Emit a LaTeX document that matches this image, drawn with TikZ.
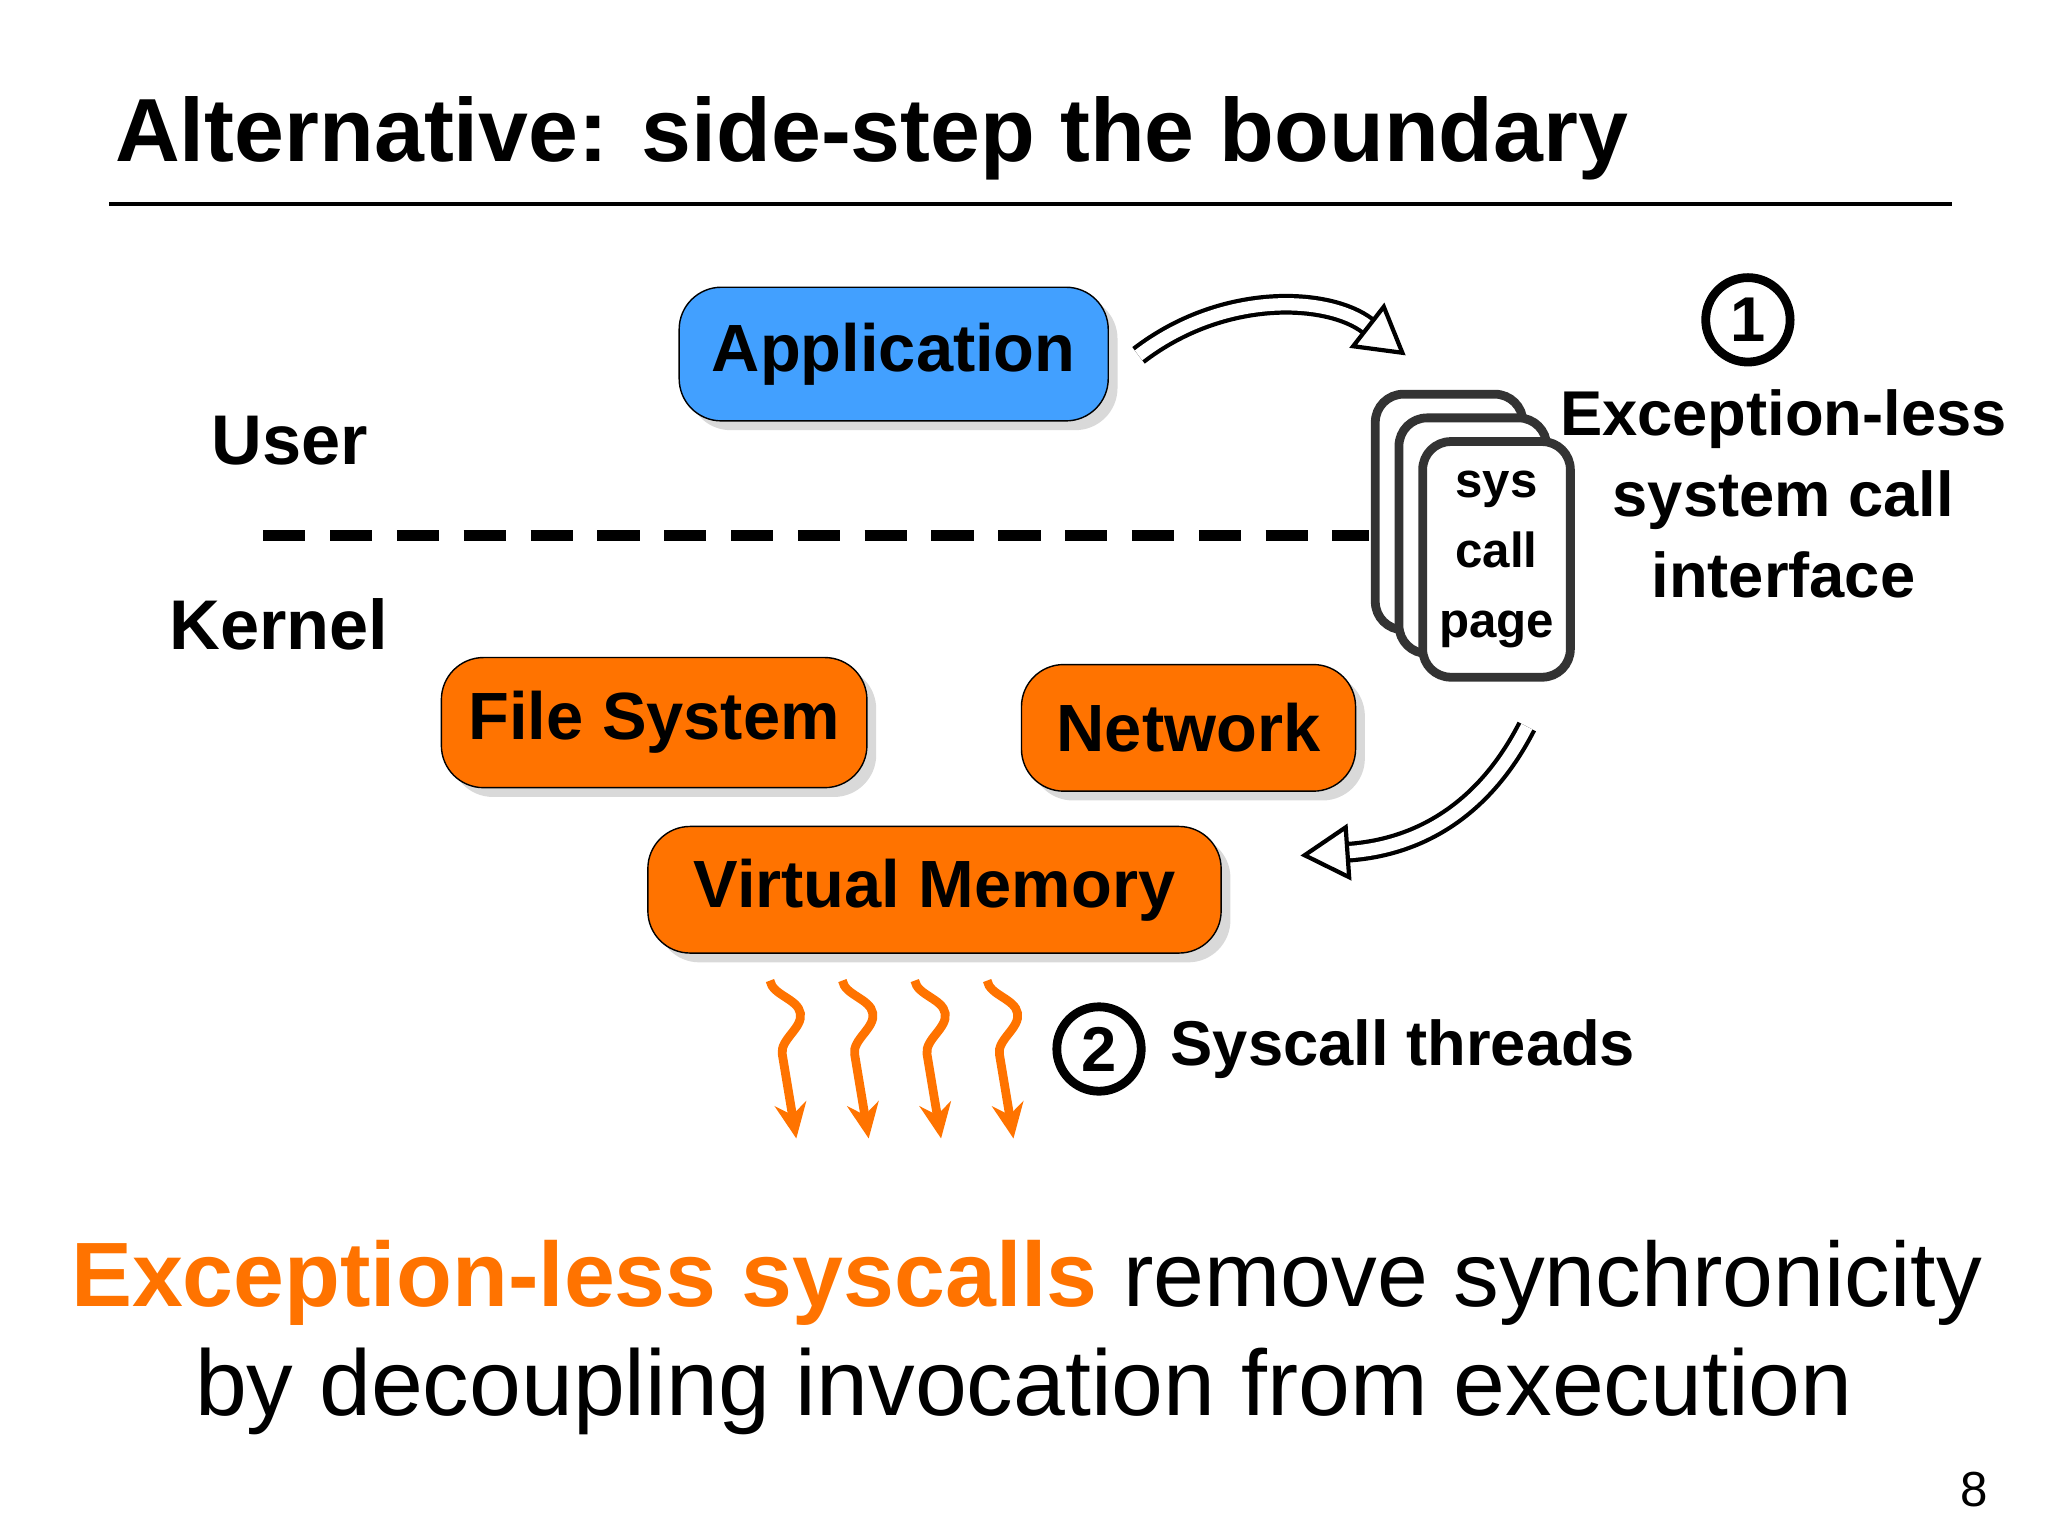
\documentclass[tikz,border=0pt]{standalone}
\usepackage{fontspec}
\setmainfont{Liberation Sans}
\usetikzlibrary{arrows.meta,shadows,decorations.pathmorphing}
\definecolor{appblue}{RGB}{66,160,255}
\definecolor{kornge}{RGB}{255,115,0}
\begin{document}
\begin{tikzpicture}[x=0.01316cm,y=-0.01316cm]
\tikzstyle{box_style} = [draw=black, rounded corners=12pt, drop shadow={opacity=0.3}, font=\fontsize{19}{23}\selectfont\bfseries, inner sep=0pt]
\tikzstyle{page_style} = [draw=black!80, line width=2.5pt, fill=white, rounded corners=8pt, minimum width=42pt, minimum height=67pt, inner sep=0pt]
\tikzstyle{label_style} = [font=\fontsize{18}{23}\selectfont\bfseries]
\tikzstyle{num_style} = [draw=black, line width=2.5pt, circle, minimum size=24pt, inner sep=0pt, font=\fontsize{18}{20}\selectfont\bfseries]
\tikzstyle{big_arrow} = [line width=1.2pt, double=white, double distance=3.5pt, -{Triangle[open,fill=white,length=14pt,width=16pt]}]
\tikzstyle{thread_style} = [kornge, line width=2.5pt, decorate, decoration={snake, amplitude=7pt, segment length=34pt, post length=12pt}]
    \useasboundingbox (0,0) rectangle (1556,1166);
    % title
    \node[anchor=west, font=\fontsize{25.5}{30}\selectfont\bfseries] (title) at (78,105) {Alternative: side-step the boundary};
    \coordinate (r1) at (83,155);
    \coordinate (r2) at (1483,155);
    \draw[line width=1.2pt] (r1) -- (r2);

    % user / kernel
    \node[label_style, font=\fontsize{20}{23}\selectfont\bfseries] (user) at (220,335) {User};
    \node[label_style, font=\fontsize{20}{23}\selectfont\bfseries] (kernel) at (212,474) {Kernel};
    \coordinate (d1) at (200,407);
    \coordinate (d2) at (1040,407);
    \draw[line width=3pt, dash pattern=on 12pt off 7pt] (d1) -- (d2);

    % boxes
    \node[box_style, fill=appblue, minimum width=122pt, minimum height=38pt] (app) at (679,269) {Application};
    \node[box_style, fill=kornge, minimum width=121pt, minimum height=37pt] (fs) at (497,549) {File System};
    \node[box_style, fill=kornge, minimum width=95pt, minimum height=36pt] (net) at (903,553) {Network};
    \node[box_style, fill=kornge, minimum width=163pt, minimum height=36pt] (vm) at (710,676) {Virtual Memory};

    % syscall pages
    \node[page_style] (p1) at (1101,389) {};
    \node[page_style] (p2) at (1119,407) {};
    \node[page_style, align=center, font=\fontsize{14}{20}\selectfont\bfseries] (p3) at (1137,425) {sys\\call\\page};

    % labels
    \node[num_style] (n1) at (1328,243) {1};
    \node[label_style, align=center] (eli) at (1355,375) {Exception-less\\system call\\interface};
    \node[num_style] (n2) at (835,797) {2};
    \node[label_style, anchor=west] (thr) at (880,797) {Syscall threads};

    % arrows
    \coordinate (a1) at (865,270);
    \coordinate (a2) at (1068,270);
    \draw[big_arrow] (a1) .. controls (930,220) and (1010,225) .. (a2);
    \coordinate (b1) at (1160,552);
    \coordinate (b2) at (988,650);
    \draw[big_arrow] (b1) .. controls (1120,630) and (1060,645) .. (b2);

    % threads
    \foreach \i/\x in {1/585,2/640,3/695,4/750}{
      \coordinate (t\i s) at (\x,745);
      \coordinate (t\i e) at (\x+20,865);
      \draw[thread_style, -{Stealth[length=10pt,width=9pt]}] (t\i s) -- (t\i e);
    }

    % bottom text
    \node[font=\fontsize{26}{33}\selectfont] (msg1) at (780,975) {\textcolor{kornge}{\bfseries Exception-less syscalls} remove synchronicity};
    \node[font=\fontsize{26.5}{33}\selectfont] (msg2) at (778,1057) {by decoupling invocation from execution};
    \node[font=\fontsize{14}{16}\selectfont] (pg) at (1500,1132) {8};
\end{tikzpicture}
\end{document}
